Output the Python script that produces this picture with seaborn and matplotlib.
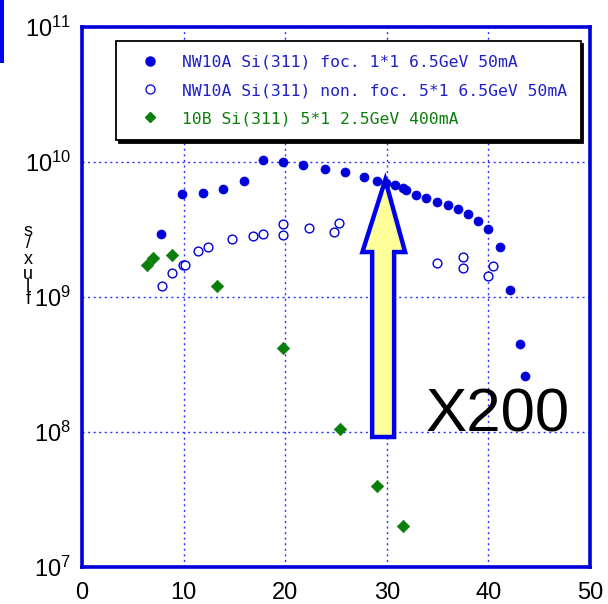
import matplotlib
matplotlib.use("Agg")
import matplotlib.pyplot as plt
from matplotlib.lines import Line2D
from matplotlib.patches import Polygon, Rectangle
import numpy as np
import pandas as pd
import seaborn as sns

# NW10A, focused beam, 1*1 slit, 6.5 GeV 50 mA
foc_energy = [7.8, 9.8, 11.9, 13.9, 15.9, 17.8, 19.8, 21.8, 23.9, 25.9, 27.8, 29.0,
              29.9, 30.8, 31.6, 31.9, 32.9, 33.9, 34.9, 36.0, 37.0, 38.0, 39.0, 40.0,
              41.1, 42.1, 43.1, 43.6]
foc_flux = [2.94e9, 5.8e9, 5.9e9, 6.3e9, 7.27e9, 1.03e10, 1.0e10, 9.45e9, 8.87e9, 8.43e9,
            7.74e9, 7.23e9, 7.03e9, 6.7e9, 6.45e9, 6.2e9, 5.7e9, 5.37e9, 5.07e9, 4.78e9,
            4.46e9, 4.13e9, 3.68e9, 3.2e9, 2.34e9, 1.13e9, 4.46e8, 2.62e8]

# NW10A, non-focused beam, 5*1 slit, 6.5 GeV 50 mA
nonfoc_energy = [7.9, 8.9, 9.9, 10.1, 11.4, 12.4, 14.8, 16.8, 17.8, 19.8, 19.8, 22.3,
                 24.8, 25.3, 34.9, 37.5, 37.5, 40.0, 40.5]
nonfoc_flux = [1.2e9, 1.5e9, 1.72e9, 1.72e9, 2.19e9, 2.34e9, 2.7e9, 2.82e9, 2.93e9,
               3.47e9, 2.88e9, 3.23e9, 3.01e9, 3.52e9, 1.78e9, 1.99e9, 1.64e9, 1.44e9,
               1.70e9]

# 10B, 5*1 slit, 2.5 GeV 400 mA
b10_energy = [6.4, 7.0, 8.9, 13.3, 19.8, 25.4, 29.0, 31.6]
b10_flux = [1.73e9, 1.95e9, 2.05e9, 1.2e9, 4.2e8, 1.05e8, 3.96e7, 2.01e7]

series_labels = ["NW10A Si(311) foc. 1*1 6.5GeV 50mA",
                 "NW10A Si(311) non. foc. 5*1 6.5GeV 50mA",
                 "10B Si(311) 5*1 2.5GeV 400mA"]

x_ticks = [0, 10, 20, 30, 40, 50]
y_ticks = [1e7, 1e8, 1e9, 1e10, 1e11]
y_tick_labels = [r"$\mathregular{10^{7}}$", r"$\mathregular{10^{8}}$",
                 r"$\mathregular{10^{9}}$", r"$\mathregular{10^{10}}$",
                 r"$\mathregular{10^{11}}$"]

gain_label = "X200"

BLUE = "#0000d8"
TEXT_BLUE = "#2020c8"
GREEN = "#0b7f0b"
GRID = "#3030ff"

sns.set_theme(style="white")
plt.rcParams["font.family"] = ["Liberation Sans", "DejaVu Sans"]
plt.rcParams["mathtext.default"] = "regular"

W, H = 608, 604
fig = plt.figure(figsize=(W / 100, H / 100), dpi=100)
fig.patch.set_facecolor("white")
ax = fig.add_axes([82 / W, 37 / H, 508 / W, 540 / H])

df_foc = pd.DataFrame({"energy": foc_energy, "flux": foc_flux})
df_non = pd.DataFrame({"energy": nonfoc_energy, "flux": nonfoc_flux})
df_b10 = pd.DataFrame({"energy": b10_energy, "flux": b10_flux})

ax.set_yscale("log")
ax.set_xlim(0, 50)
ax.set_ylim(1e7, 1e11)

# block arrow indicating the x200 gain
arrow_x = [29.85, 31.8, 30.72, 30.72, 28.56, 28.56, 27.6]
arrow_y = [10 ** 9.867, 10 ** 9.333, 10 ** 9.333, 10 ** 7.963, 10 ** 7.963, 10 ** 9.333, 10 ** 9.333]
ax.add_patch(Polygon(np.column_stack([arrow_x, arrow_y]), closed=True,
                     facecolor="#ffff99", edgecolor="#0000ee", linewidth=3.2,
                     joinstyle="miter", zorder=3))

sns.scatterplot(data=df_foc, x="energy", y="flux", ax=ax, marker="o", s=42,
                color=BLUE, edgecolor=BLUE, linewidth=0.5, zorder=4)
sns.scatterplot(data=df_non, x="energy", y="flux", ax=ax, marker="o", s=40,
                facecolor="white", edgecolor=BLUE, linewidth=1.0, zorder=4)
sns.scatterplot(data=df_b10, x="energy", y="flux", ax=ax, marker="D", s=40,
                color=GREEN, edgecolor=GREEN, linewidth=0.5, zorder=4)

ax.text(33.8, 1e8, gain_label, fontsize=44.5, color="black",
        ha="left", va="baseline", zorder=5)

ax.set_xticks(x_ticks)
ax.set_yticks(y_ticks)
ax.set_yticklabels(y_tick_labels)
ax.minorticks_off()
ax.tick_params(axis="both", length=0, labelsize=17, colors="black")
ax.tick_params(axis="x", pad=11)
ax.tick_params(axis="y", pad=8)
ax.grid(True, which="major", color=GRID, linestyle=(0, (1.5, 2.5)), linewidth=1.0)
ax.set_xlabel("")
ax.set_ylabel("")
for sp in ax.spines.values():
    sp.set_color(BLUE)
    sp.set_linewidth(2.6)
    sp.set_visible(True)

handles = [
    Line2D([], [], linestyle="none", marker="o", markersize=6.5, color=BLUE, markeredgecolor=BLUE),
    Line2D([], [], linestyle="none", marker="o", markersize=6.5, markerfacecolor="white",
           markeredgecolor=BLUE, markeredgewidth=0.9),
    Line2D([], [], linestyle="none", marker="D", markersize=5.5, color=GREEN, markeredgecolor=GREEN),
]
leg = ax.legend(handles, series_labels, loc="upper left",
                bbox_to_anchor=(116 / W, 1 - 41 / H), bbox_transform=fig.transFigure,
                prop={"family": ["DejaVu Sans Mono"], "size": 11.8},
                labelcolor=[TEXT_BLUE, TEXT_BLUE, GREEN],
                frameon=True, fancybox=False, shadow={"color": "black", "alpha": 1.0},
                borderpad=0.85, handlelength=2.5, handletextpad=0.65, labelspacing=0.8,
                borderaxespad=0)
leg.get_frame().set_edgecolor("black")
leg.get_frame().set_linewidth(1.3)
leg.get_frame().set_facecolor("white")
leg.set_zorder(6)

# vertical axis caption, stacked upright letters
for ch, py in [("s", 232), ("/", 243), ("x", 260), ("u", 275), ("l", 287), ("f", 300)]:
    fig.text(28 / W, 1 - py / H, ch, fontsize=13, ha="center", va="center",
             color="black")

fig.patches.append(Rectangle((0, 1 - 63 / H), 3.5 / W, 63 / H, transform=fig.transFigure,
                             facecolor="#0000ee", edgecolor="none"))

fig.savefig("out.png", dpi=100)
